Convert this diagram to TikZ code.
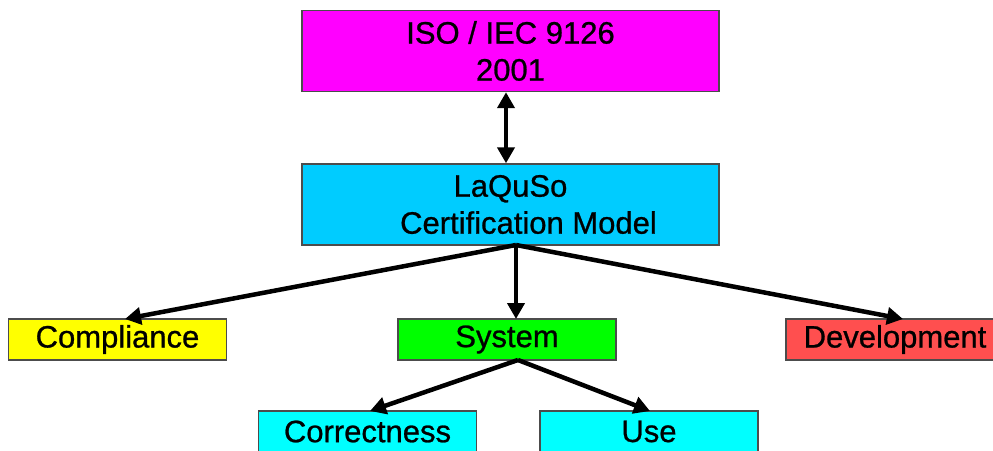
\documentclass[tikz,border=0pt]{standalone}
\usepackage{fontspec}
\setmainfont[FakeBold=0.8]{Liberation Sans}
\usetikzlibrary{arrows.meta}
\definecolor{isoc}{HTML}{FF00FF}
\definecolor{laqc}{HTML}{00CCFF}
\definecolor{compc}{HTML}{FFFF00}
\definecolor{sysc}{HTML}{00FF00}
\definecolor{devc}{HTML}{FF4F4F}
\definecolor{subc}{HTML}{00FFFF}
\begin{document}
\begin{tikzpicture}[x=1pt,y=-1pt,
  box/.style={draw=black!70,line width=1.4pt,inner sep=0pt,align=center,
    font=\fontsize{31}{37}\selectfont},
  big/.style={box,minimum width=417pt,minimum height=81pt},
  small/.style={box,minimum width=218pt,minimum height=41pt},
  arr/.style={line width=4.5pt,-{Triangle[length=16pt,width=17pt]}},
  darr/.style={line width=4.5pt,{Triangle[length=16pt,width=17pt]}-{Triangle[length=16pt,width=17pt]}}]
\useasboundingbox (0,0) rectangle (993,450);
\clip (0,0) rectangle (993,450);
\fill[white] (0,0) rectangle (993,450);
\node[big,fill=isoc] (iso) at (510.5,51) {ISO / IEC 9126\\2001};
\node[big,fill=laqc] (laq) at (510.5,204.5) {LaQuSo\\\hspace*{36pt}Certification Model};
\node[small,fill=compc] (comp) at (117.5,339.5) {Compliance};
\node[small,fill=sysc] (sys) at (507,339.5) {System};
\node[small,fill=devc] (dev) at (895,339.5) {Development};
\node[small,fill=subc] (corr) at (367.5,431.5) {Correctness};
\node[small,fill=subc] (use) at (649,431.5) {Use};
\coordinate (laqout) at (516,245);
\coordinate (sysout) at (518,360);
\coordinate (compin) at (125,319);
\coordinate (sysin) at (516,319);
\coordinate (devin) at (903,319);
\coordinate (corrin) at (370,411);
\coordinate (usein) at (650,411);
\draw[darr] (iso.south -| 506,0) -- (laq.north -| 506,0);
\draw[arr] (laqout) -- (compin);
\draw[arr] (laqout) -- (sysin);
\draw[arr] (laqout) -- (devin);
\draw[arr] (sysout) -- (corrin);
\draw[arr] (sysout) -- (usein);
\end{tikzpicture}
\end{document}
